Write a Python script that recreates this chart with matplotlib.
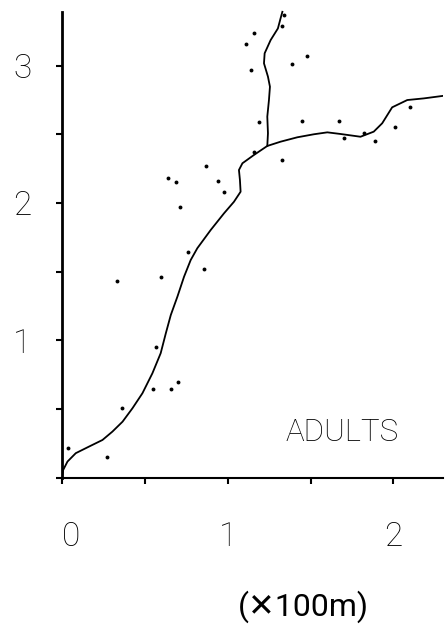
import numpy as np
import matplotlib
matplotlib.use('Agg')
import matplotlib.pyplot as plt

# scattered observations (x in 100 m units)
pts_x = [1.16, 1.11, 1.33, 1.34, 1.14, 1.39, 1.48, 1.19, 1.45, 1.67,
         1.70, 1.82, 1.89, 2.01, 2.10, 1.16, 1.33, 0.87, 0.64, 0.69,
         0.94, 0.98, 0.71, 0.76, 0.86, 0.33, 0.60, 0.57, 0.55, 0.66,
         0.70, 0.36, 0.04, 0.27]
pts_y = [3.24, 3.16, 3.29, 3.37, 2.97, 3.01, 3.07, 2.59, 2.60, 2.60,
         2.47, 2.51, 2.45, 2.55, 2.70, 2.37, 2.31, 2.27, 2.18, 2.15,
         2.16, 2.08, 1.97, 1.64, 1.52, 1.43, 1.46, 0.95, 0.65, 0.65,
         0.70, 0.51, 0.22, 0.15]

# main fitted curve, traced
main_x = [0.0, 0.008, 0.034, 0.084, 0.164, 0.245, 0.305, 0.366, 0.426,
          0.486, 0.546, 0.596, 0.627, 0.657, 0.697, 0.737, 0.777, 0.817,
          0.898, 0.978, 1.038, 1.078, 1.074, 1.068, 1.089, 1.158, 1.239,
          1.319, 1.420, 1.520, 1.601, 1.681, 1.801, 1.881, 1.932, 1.992,
          2.083, 2.183, 2.303]
main_y = [0.0, 0.058, 0.119, 0.180, 0.228, 0.276, 0.337, 0.409, 0.507,
          0.616, 0.761, 0.907, 1.052, 1.185, 1.319, 1.464, 1.585, 1.671,
          1.804, 1.925, 2.009, 2.082, 2.167, 2.240, 2.289, 2.349, 2.415,
          2.446, 2.478, 2.500, 2.514, 2.502, 2.482, 2.519, 2.580, 2.696,
          2.749, 2.761, 2.780]

# branch going up from the junction
branch_x = [1.239, 1.243, 1.239, 1.249, 1.255, 1.243, 1.219, 1.223,
            1.259, 1.303, 1.319, 1.330]
branch_y = [2.415, 2.507, 2.628, 2.749, 2.846, 2.919, 3.016, 3.089,
            3.185, 3.270, 3.343, 3.391]

plt.rcParams['font.family'] = ['Roboto', 'DejaVu Sans']
plt.rcParams['font.weight'] = 'light'

fig = plt.figure(figsize=(4.45, 6.28), dpi=100)
ax = fig.add_axes([0.139, 0.239, 0.857, 0.742])

ax.plot(main_x, main_y, color='black', lw=1.3, solid_joinstyle='round')
ax.plot(branch_x, branch_y, color='black', lw=1.3, solid_joinstyle='round',
        clip_on=False)
ax.plot(pts_x, pts_y, 'o', color='black', ms=2.8, mew=0, clip_on=False)

ax.set_xlim(0, 2.30)
ax.set_ylim(0, 3.39)

for s in ['top', 'right']:
    ax.spines[s].set_visible(False)
ax.spines['left'].set_linewidth(2.0)
ax.spines['bottom'].set_linewidth(1.5)

ax.set_xticks(np.arange(0, 2.3, 0.5))
ax.set_xticklabels(['0', '', '1', '', '2'])
ax.set_yticks(np.arange(0, 3.4, 0.5))
ax.set_yticklabels(['', '', '1', '', '2', '', '3'])
ax.tick_params(axis='both', direction='out', length=4, width=1.5,
               labelsize=24)
ax.tick_params(axis='x', pad=27)
ax.tick_params(axis='y', pad=18)
ax.get_xticklabels()[0].set_horizontalalignment('left')

ax.text(1.69, 0.33, 'ADULTS', fontsize=22.5, ha='center', va='center')
# DejaVu regular carries the big cross glyph
fig.text(303 / 445, 1 - 607 / 628, '(\u2715100m)', fontsize=23,
         ha='center', va='center', family=['Roboto', 'DejaVu Sans'],
         fontweight='normal')

fig.savefig('out.png', dpi=100)
